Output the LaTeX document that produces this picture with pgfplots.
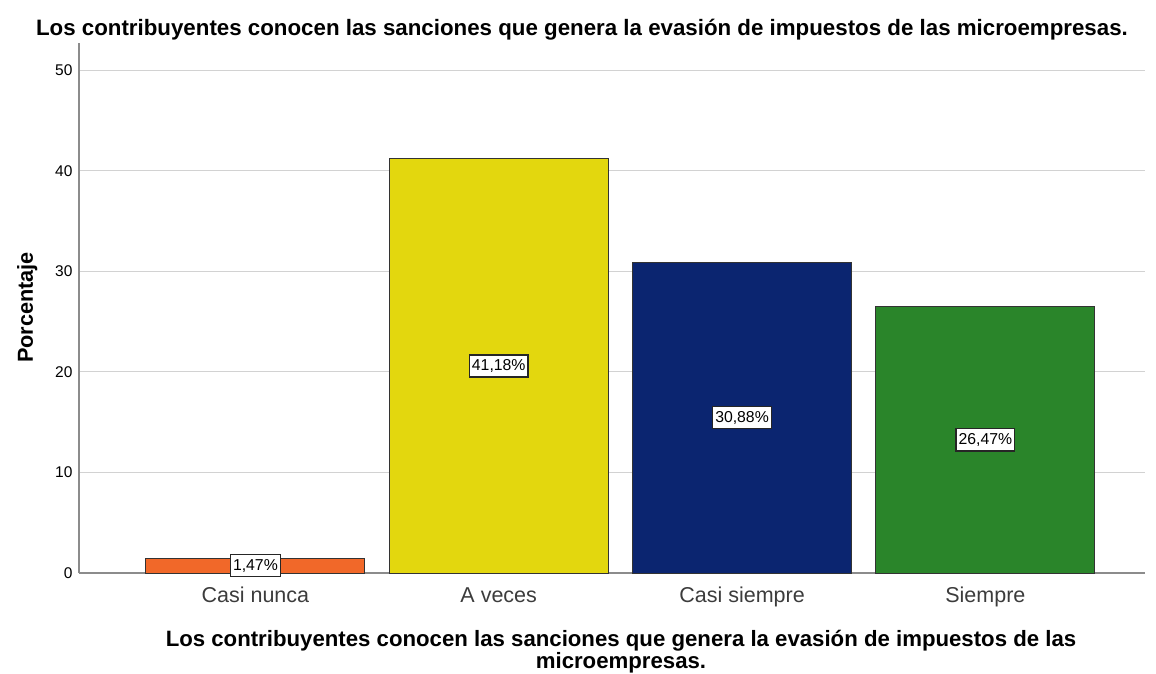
\documentclass[border=0pt]{standalone}
\usepackage{fontspec}
\setmainfont{Liberation Sans}
\usepackage{pgfplots}
\usepackage{pgfplotstable}
\pgfplotsset{compat=1.18}
\definecolor{cOr}{RGB}{241,104,41}
\definecolor{cYe}{RGB}{227,215,14}
\definecolor{cNa}{RGB}{11,37,112}
\definecolor{cGr}{RGB}{42,133,42}
\definecolor{cGrid}{RGB}{210,210,210}
\definecolor{cAx}{RGB}{140,140,140}
\definecolor{cTick}{RGB}{60,60,60}
\pgfplotstableread{
x y
0 1.47
1 41.18
2 30.88
3 26.47
}\data
\begin{document}
\begin{tikzpicture}[x=1pt,y=1pt]
\path[use as bounding box] (-79,-100) rectangle (1077,573);
\begin{axis}[
  at={(0pt,0pt)}, anchor=south west,
  scale only axis, width=1066pt, height=530pt,
  xmin=-0.725, xmax=3.656, ymin=0, ymax=52.7,
  axis x line=bottom, axis y line=left,
  axis line style={-, draw=cAx, line width=1.2pt},
  ytick={0,10,20,30,40,50},
  ymajorgrids, grid style={draw=cGrid, line width=1.2pt},
  xtick={0,1,2,3},
  xticklabels={Casi nunca, A veces, Casi siempre, Siempre},
  major tick length=0pt,
  /pgf/number format/assume math mode=true,
  x tick label style={font=\fontsize{21.5}{24}\selectfont, text=cTick, anchor=north, text height=16pt, text depth=5pt, yshift=-10pt},
  y tick label style={font=\fontsize{15.5}{18}\selectfont, text=black, xshift=-3pt},
  clip=false,
]
\addplot[ybar, bar width=0.9, bar shift=0pt, fill=cOr, draw=black!80, line width=1pt] coordinates {(0,1.47)};
\addplot[ybar, bar width=0.9, bar shift=0pt, fill=cYe, draw=black!80, line width=1pt] coordinates {(1,41.18)};
\addplot[ybar, bar width=0.9, bar shift=0pt, fill=cNa, draw=black!80, line width=1pt] coordinates {(2,30.88)};
\addplot[ybar, bar width=0.9, bar shift=0pt, fill=cGr, draw=black!80, line width=1pt] coordinates {(3,26.47)};
\addplot[draw=none, mark=none, point meta=explicit,
  nodes near coords={\pgfmathprintnumber[fixed,fixed zerofill,precision=2,use comma]{\pgfplotspointmeta}\%},
  every node near coord/.append style={anchor=center, fill=white, draw=black!85, line width=1.2pt, inner xsep=2.5pt, inner ysep=4.5pt, text=black, font=\fontsize{15.8}{17}\selectfont}]
  table[x=x, y expr=\thisrow{y}/2, meta=y] {\data};
\end{axis}
\node[font=\bfseries\fontsize{22.3}{24}\selectfont] at (503,543) {Los contribuyentes conocen las sanciones que genera la evasión de impuestos de las microempresas.};
\node[font=\bfseries\fontsize{22.2}{19}\selectfont, align=center] at (542,-79) {Los contribuyentes conocen las sanciones que genera la evasión de impuestos de las\\microempresas.};
\node[font=\bfseries\fontsize{21.7}{24}\selectfont, rotate=90, anchor=base] at (-46,265.5) {Porcentaje};
\end{tikzpicture}
\end{document}
